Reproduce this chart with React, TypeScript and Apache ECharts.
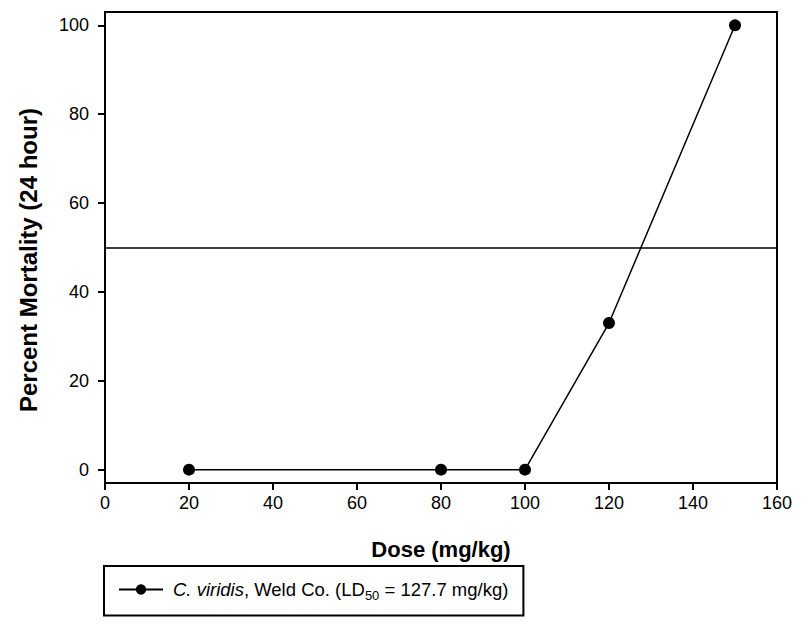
import React, { useEffect, useRef } from "react";
import * as echarts from "echarts";

const doses = [20, 80, 100, 120, 150];
const mortality = [0, 0, 0, 33, 100];
const yTicks = [0, 20, 40, 60, 80, 100];
const xTicks = [0, 20, 40, 60, 80, 100, 120, 140, 160];
const ld50Line = 50;
const seriesName = "C. viridis, Weld Co. (LD50 = 127.7 mg/kg)";
const xTitle = "Dose (mg/kg)";
const yTitle = "Percent Mortality (24 hour)";

const FONT = "'Liberation Sans', Arial, sans-serif";

export default function App() {
  const ref = useRef<HTMLDivElement>(null);
  useEffect(() => {
    if (!ref.current) return;
    const chart = echarts.init(ref.current, undefined, { renderer: "svg" });
    chart.setOption({
      animation: false,
      backgroundColor: "#fff",
      textStyle: { fontFamily: FONT },
      grid: {
        left: 105,
        right: 24,
        top: 12,
        bottom: 141,
        show: true,
        borderColor: "#000",
        borderWidth: 2,
        backgroundColor: "transparent",
        containLabel: false,
        outerBoundsMode: "none",
      },
      xAxis: {
        type: "value",
        min: 0,
        max: 160,
        interval: 20,
        splitLine: { show: false },
        axisLine: { show: true, onZero: false, lineStyle: { color: "#000", width: 2 } },
        axisTick: { show: true, inside: false, length: 7, lineStyle: { color: "#000", width: 2 }, customValues: xTicks },
        axisLabel: { color: "#000", fontSize: 18, fontFamily: FONT, margin: 11, customValues: xTicks },
      },
      yAxis: {
        type: "value",
        min: -3,
        max: 103,
        splitLine: { show: false },
        axisLine: { show: true, onZero: false, lineStyle: { color: "#000", width: 2 } },
        axisTick: { show: true, inside: false, length: 7, lineStyle: { color: "#000", width: 2 }, customValues: yTicks },
        axisLabel: { color: "#000", fontSize: 18, fontFamily: FONT, margin: 16, customValues: yTicks },
      },
      legend: {
        left: 104,
        top: 566,
        orient: "horizontal",
        borderColor: "#000",
        borderWidth: 2,
        padding: [14, 15, 14, 14],
        itemWidth: 44,
        itemHeight: 13,
        selectedMode: false,
        formatter: () => "{i|C. viridis}{n|, Weld Co. (LD}{s|50}{n| = 127.7 mg/kg)}",
        textStyle: {
          color: "#000",
          fontFamily: FONT,
          fontSize: 18.5,
          padding: [0, 0, 0, 5],
          rich: {
            i: { fontStyle: "italic", fontSize: 18.5, fontFamily: FONT, color: "#000", lineHeight: 24 },
            n: { fontSize: 18.5, fontFamily: FONT, color: "#000", lineHeight: 24 },
            s: { fontSize: 13, fontFamily: FONT, color: "#000", lineHeight: 14, verticalAlign: "bottom" },
          },
        },
        data: [seriesName],
      },
      graphic: [
        {
          type: "text",
          x: 28,
          y: 260,
          rotation: Math.PI / 2,
          style: {
            text: yTitle,
            fontFamily: FONT,
            fontSize: 24,
            fontWeight: "bold",
            fill: "#000",
            textAlign: "center",
            textVerticalAlign: "middle",
          },
        },
        {
          type: "text",
          x: 441,
          y: 549,
          style: {
            text: xTitle,
            fontFamily: FONT,
            fontSize: 22,
            fontWeight: "bold",
            fill: "#000",
            textAlign: "center",
            textVerticalAlign: "middle",
          },
        },
      ],
      series: [
        {
          name: seriesName,
          type: "line",
          data: doses.map((d, i) => [d, mortality[i]]),
          symbol: "circle",
          symbolSize: 12,
          itemStyle: { color: "#000" },
          lineStyle: { color: "#000", width: 1.5 },
          markLine: {
            silent: true,
            symbol: ["none", "none"],
            label: { show: false },
            lineStyle: { color: "#000", width: 1.5, type: "solid" },
            data: [{ yAxis: ld50Line }],
          },
        },
      ],
    });
    return () => chart.dispose();
  }, []);
  return (
    <div
      ref={ref}
      style={{ position: "fixed", left: 0, top: 0, width: 801, height: 624, background: "#fff" }}
    />
  );
}
